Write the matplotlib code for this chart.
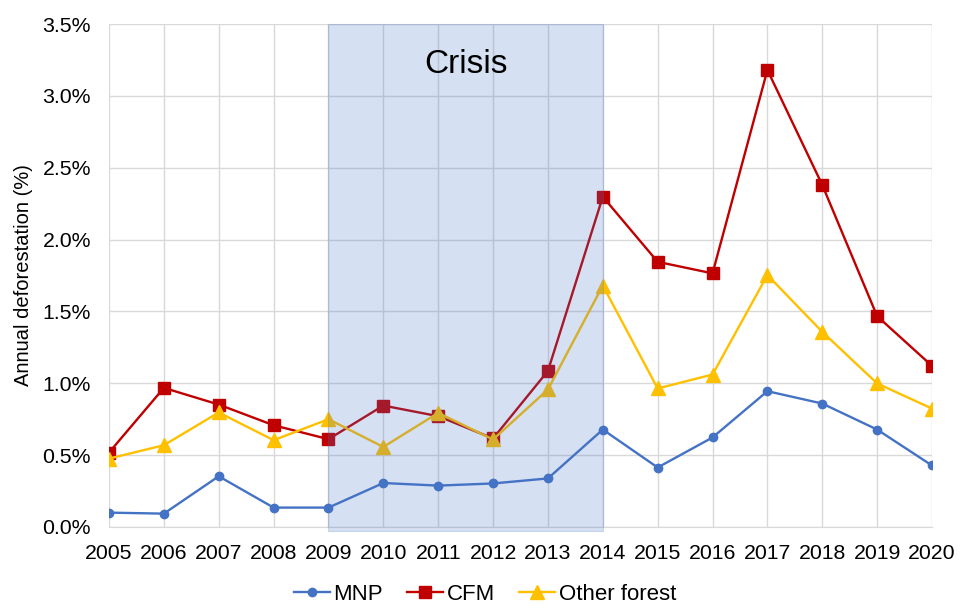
import matplotlib
matplotlib.use("Agg")
import matplotlib.pyplot as plt
from matplotlib.patches import Rectangle
from matplotlib.ticker import FuncFormatter

plt.rcParams['font.family'] = ['Liberation Sans', 'DejaVu Sans']

years = list(range(2005, 2021))
mnp = [0.100, 0.093, 0.353, 0.135, 0.135, 0.306, 0.288, 0.303, 0.338, 0.678,
       0.414, 0.623, 0.945, 0.859, 0.678, 0.428]
cfm = [0.518, 0.968, 0.852, 0.708, 0.611, 0.845, 0.771, 0.616, 1.086, 2.298,
       1.845, 1.765, 3.180, 2.380, 1.467, 1.121]
other = [0.476, 0.569, 0.797, 0.604, 0.750, 0.557, 0.794, 0.609, 0.957, 1.680,
         0.964, 1.061, 1.753, 1.358, 0.999, 0.824]
crisis_start, crisis_end = 2009, 2014
crisis_label = "Crisis"
yticks = [0.0, 0.5, 1.0, 1.5, 2.0, 2.5, 3.0, 3.5]

fig = plt.figure(figsize=(9.72, 6.11), dpi=100)
ax = fig.add_axes([109/972, 1 - 527/611, (932 - 109)/972, (527 - 24)/611])

ax.plot(years, mnp, color='#4472C4', lw=1.7, marker='o', ms=6, label='MNP', zorder=3)
ax.plot(years, cfm, color='#C00000', lw=1.7, marker='s', ms=8.5, label='CFM', zorder=3)
ax.plot(years, other, color='#FFC000', lw=1.7, marker='^', ms=10, label='Other forest', zorder=3)

ax.add_patch(Rectangle((crisis_start, -0.03), crisis_end - crisis_start, 3.53,
                       facecolor='#4472C4', alpha=0.22, edgecolor='#4472C4',
                       lw=0.8, zorder=4, clip_on=False))
ax.text((crisis_start + crisis_end) / 2, 3.22, crisis_label, fontsize=24,
        ha='center', va='center', zorder=5)

ax.set_xlim(2005, 2020)
ax.set_ylim(0, 3.5)
ax.set_xticks(years)
ax.set_yticks(yticks)
ax.yaxis.set_major_formatter(FuncFormatter(lambda v, p: f"{v:.1f}%"))
ax.grid(True, color='#D9D9D9', lw=1, zorder=0)
ax.set_axisbelow(True)
for s in ['top', 'right', 'left']:
    ax.spines[s].set_visible(False)
ax.spines['bottom'].set_color('#D9D9D9')
ax.tick_params(length=0, labelsize=15.3)
ax.tick_params(axis='x', pad=12)
ax.tick_params(axis='y', pad=13)
ax.set_ylabel("Annual deforestation (%)", fontsize=14.5)
ax.yaxis.set_label_coords(-76/823, 0.5)

fig.legend(loc='center', bbox_to_anchor=(485/972, 1 - 594/611), ncol=3,
           frameon=False, fontsize=16, handlelength=1.6, columnspacing=1.08,
           handletextpad=0.18)

fig.savefig("out.png", dpi=100)
